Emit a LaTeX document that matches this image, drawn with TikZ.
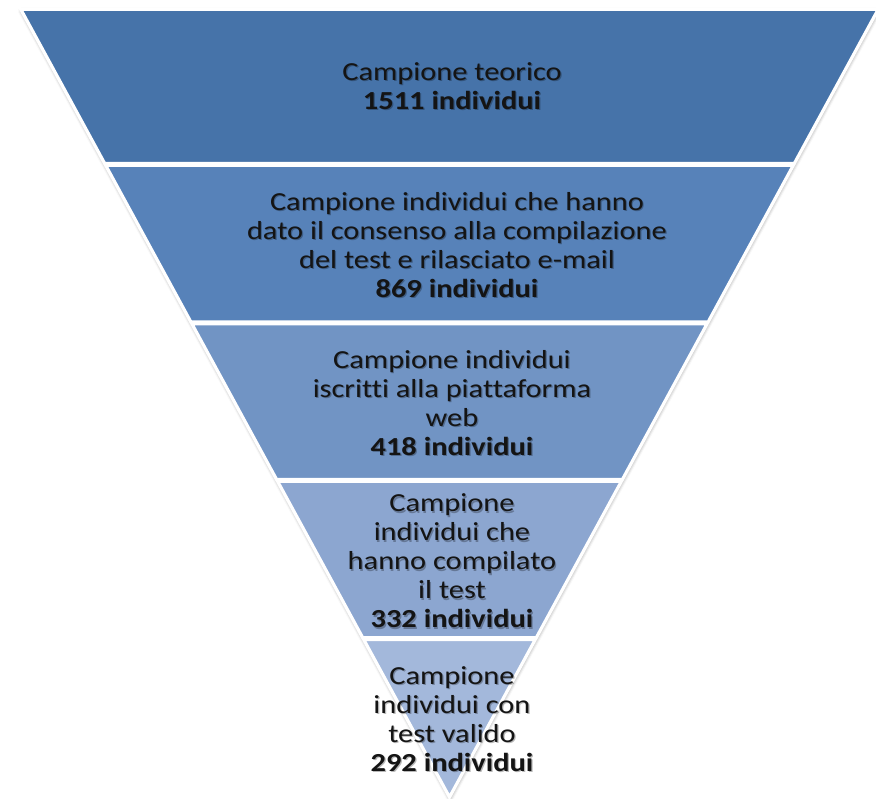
\documentclass[tikz,border=0pt]{standalone}
\usepackage{fontspec}
\setmainfont{Carlito}[FakeStretch=1.17, Ligatures={NoCommon}]
\usetikzlibrary{shadows.blur}
\definecolor{bandA}{HTML}{4673A9}
\definecolor{bandB}{HTML}{5782B9}
\definecolor{bandC}{HTML}{7194C4}
\definecolor{bandD}{HTML}{8CA6D0}
\definecolor{bandE}{HTML}{A3B8DB}
\definecolor{txt}{HTML}{141414}
\begin{document}
\begin{tikzpicture}[x=1pt,y=-1pt,
  band/.style={draw=white, line width=3pt, line join=miter},
  lbl/.style={align=center, font=\fontsize{26}{29}\selectfont, text=txt, inner sep=0pt},
  lblshadow/.style={lbl, text=black, text opacity=0.28, xshift=1.2pt, yshift=-1.5pt}]
\useasboundingbox (0,0) rectangle (876,799);
% white outline of whole funnel with soft shadow
\path[fill=white, draw=white, line width=3pt,
  blur shadow={shadow xshift=0.5pt, shadow yshift=-1.5pt, shadow blur radius=3.5pt, shadow opacity=45}]
  (21,9.5) -- (878,9.5) -- (449.5,797) -- cycle;
% bands
\path[band, fill=bandA] (21,9.5) -- (878,9.5) -- (794.2,163.5) -- (104.8,163.5) -- cycle;
\path[band, fill=bandB] (105.9,165.5) -- (793.1,165.5) -- (708.0,322) -- (191.0,322) -- cycle;
\path[band, fill=bandC] (192.1,324) -- (706.9,324) -- (622.3,479.5) -- (276.7,479.5) -- cycle;
\path[band, fill=bandD] (277.8,481.5) -- (621.2,481.5) -- (536.3,637.5) -- (362.7,637.5) -- cycle;
\path[band, fill=bandE] (363.8,639.5) -- (535.2,639.5) -- (449.5,797) -- cycle;
% label texts
\def\txA{Campione teorico\\\textbf{1511 individui}}
\def\txB{Campione individui che hanno\\dato il consenso alla compilazione\\del test e rilasciato e-mail\\\textbf{869 individui}}
\def\txC{Campione individui\\iscritti alla piattaforma\\web\\\textbf{418 individui}}
\def\txD{Campione\\individui che\\hanno compilato\\il test\\\textbf{332 individui}}
\def\txE{Campione\\individui con\\test valido\\\textbf{292 individui}}
% text shadows
\node[lblshadow] (s1) at (452,86) {\txA};
\node[lblshadow] (s2) at (457,245) {\txB};
\node[lblshadow] (s3) at (452,403) {\txC};
\node[lblshadow] (s4) at (452,561) {\txD};
\node[lblshadow] (s5) at (452,719) {\txE};
% labels
\node[lbl] (t1) at (452,86) {\txA};
\node[lbl] (t2) at (457,245) {\txB};
\node[lbl] (t3) at (452,403) {\txC};
\node[lbl] (t4) at (452,561) {\txD};
\node[lbl] (t5) at (452,719) {\txE};
\end{tikzpicture}
\end{document}
